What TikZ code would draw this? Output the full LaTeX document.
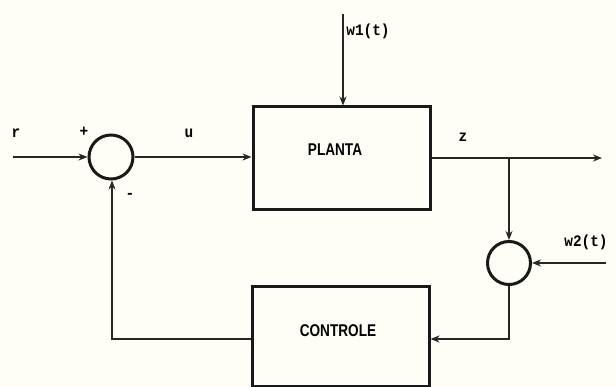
\documentclass[tikz,border=0pt]{standalone}
\usepackage{fontspec}
\setmainfont{Liberation Sans}[FakeStretch=0.8]
\newfontfamily\lblfont{Liberation Mono}[FakeStretch=0.9]
\usetikzlibrary{arrows.meta}
\begin{document}
\begin{tikzpicture}[x=1pt,y=-1pt,
  boxst/.style={draw=black!90, line width=3pt, inner sep=0pt},
  sumc/.style={draw=black!90, line width=3pt, circle, minimum size=44pt, inner sep=0pt},
  conn/.style={draw=black!85, line width=1.8pt, -{Stealth[length=9pt,width=7pt]}},
  lbl/.style={font=\lblfont\bfseries\fontsize{16}{16}\selectfont, inner sep=0pt},
  blab/.style={font=\bfseries\fontsize{17}{17}\selectfont, inner sep=0pt}
]
\fill[fill={rgb,255:red,254;green,254;blue,246}] (0,0) rectangle (616,387);
\useasboundingbox (0,0) rectangle (616,387);

% nodes
\node[sumc] (s1) at (111,157) {};
\node[sumc, minimum size=43pt] (s2) at (509,263) {};
\node[boxst, minimum width=177pt, minimum height=103pt] (plant) at (341.5,158.5) {};
\node[blab] (plantlbl) at (335,150) {PLANTA};
\node[boxst, minimum width=177pt, minimum height=99pt] (ctrl) at (340.5,336.5) {};
\node[blab] (ctrllbl) at (338,331) {CONTROLE};

\coordinate (rin) at (13,157);
\coordinate (w1) at (343,14);
\coordinate (zout) at (602,158);
\coordinate (br) at (509,158);
\coordinate (w2) at (606,263);
\coordinate (c2) at (509,339);
\coordinate (fb) at (112,339);

% connectors
\draw[conn] (rin) -- (s1.west);
\draw[conn] (s1.east) -- (plant.west |- s1.east);
\draw[conn] (w1) -- (plant.north -| w1);
\draw[conn] (plant.east |- zout) -- (zout);
\draw[conn] (br) -- (s2.north);
\draw[conn] (w2) -- (s2.east);
\draw[conn] (s2.south) -- (c2) -- (ctrl.east |- c2);
\draw[conn] (ctrl.west |- fb) -- (fb) -- (s1.south -| fb);

% labels
\node[lbl] (lr) at (16,133) {r};
\node[lbl] (lp) at (84,132) {+};
\node[lbl] (lu) at (189,133) {u};
\node[lbl] (lm) at (130,196) {-};
\node[lbl] (lw1) at (368,31) {w1(t)};
\node[lbl] (lz) at (463,137) {z};
\node[lbl] (lw2) at (586,242) {w2(t)};
\end{tikzpicture}
\end{document}
